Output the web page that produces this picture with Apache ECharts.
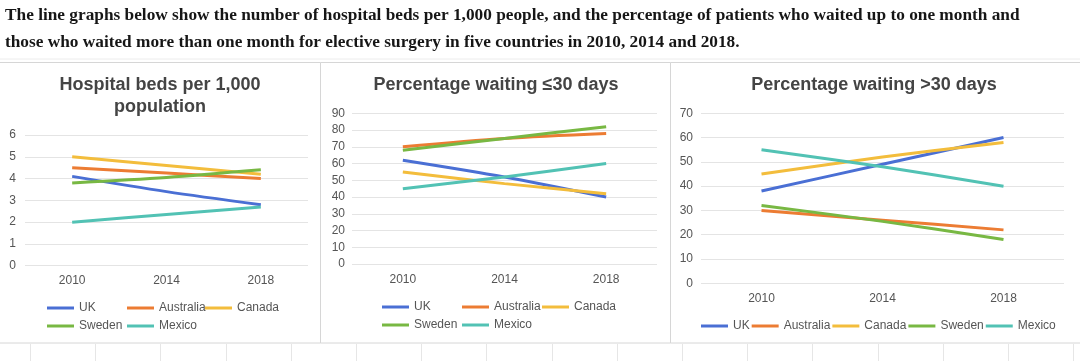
<!DOCTYPE html>
<html>
<head>
<meta charset="utf-8">
<script src="https://cdn.jsdelivr.net/npm/echarts@6/dist/echarts.min.js"></script>
<style>
html,body{margin:0;padding:0;background:#fff;}
#c{width:1080px;height:361px;}
</style>
</head>
<body>
<div id="c"></div>
<script>
var categories = ['2010', '2014', '2018'];
var countries = ['UK', 'Australia', 'Canada', 'Sweden', 'Mexico'];
var colors = ['#4a6fd4', '#ec7c33', '#f3bd3c', '#78b843', '#52c2b4'];

// Hospital beds per 1,000 population
var bedsUK = [4.1, 3.4, 2.8];
var bedsAustralia = [4.5, 4.25, 4.0];
var bedsCanada = [5.0, 4.6, 4.2];
var bedsSweden = [3.8, 4.05, 4.4];
var bedsMexico = [2.0, 2.35, 2.7];

// Percentage waiting <=30 days
var le30UK = [62, 52, 40];
var le30Australia = [70, 75, 78];
var le30Canada = [55, 48, 42];
var le30Sweden = [68, 75, 82];
var le30Mexico = [45, 52, 60];

// Percentage waiting >30 days
var gt30UK = [38, 49, 60];
var gt30Australia = [30, 26, 22];
var gt30Canada = [45, 52, 58];
var gt30Sweden = [32, 25.5, 18];
var gt30Mexico = [55, 48, 40];

var titles = ['Hospital beds per 1,000\npopulation', 'Percentage waiting \u226430 days', 'Percentage waiting >30 days'];
var heading1 = 'The line graphs below show the number of hospital beds per 1,000 people, and the percentage of patients who waited up to one month and';
var heading2 = 'those who waited more than one month for elective surgery in five countries in 2010, 2014 and 2018.';

var panelData = [
  [bedsUK, bedsAustralia, bedsCanada, bedsSweden, bedsMexico],
  [le30UK, le30Australia, le30Canada, le30Sweden, le30Mexico],
  [gt30UK, gt30Australia, gt30Canada, gt30Sweden, gt30Mexico]
];

var FONT = 'Liberation Sans, Arial, sans-serif';
var grids = [
  {left: 25, top: 135, width: 283, height: 130.7},
  {left: 352, top: 113.3, width: 305, height: 150.7},
  {left: 701, top: 113.3, width: 363, height: 170}
];
var yMax = [6, 90, 70];
var yInt = [1, 10, 10];
var yMargin = [9, 7, 8];
var xMargin = [9, 10, 9];

var xAxes = [], yAxes = [], series = [];
for (var p = 0; p < 3; p++) {
  xAxes.push({
    type: 'category', gridIndex: p, data: categories, boundaryGap: true,
    axisLine: {show: false}, axisTick: {show: false}, splitLine: {show: false},
    axisLabel: {color: '#555', fontSize: 12, fontFamily: FONT, margin: xMargin[p]}
  });
  yAxes.push({
    type: 'value', gridIndex: p, min: 0, max: yMax[p], interval: yInt[p],
    axisLine: {show: false}, axisTick: {show: false},
    splitLine: {lineStyle: {color: '#e4e4e4', width: 1}},
    axisLabel: {color: '#555', fontSize: 12, fontFamily: FONT, margin: yMargin[p]}
  });
  for (var s = 0; s < 5; s++) {
    series.push({
      type: 'line', name: countries[s], xAxisIndex: p, yAxisIndex: p,
      data: panelData[p][s], smooth: 0.3, showSymbol: false, symbol: 'none',
      lineStyle: {width: 3, color: colors[s]}, itemStyle: {color: colors[s]},
      emphasis: {disabled: true}
    });
  }
}

var legendBase = {
  icon: 'rect', itemWidth: 27, itemHeight: 3,
  textStyle: {color: '#555', fontSize: 12, fontFamily: FONT, lineHeight: 14},
  padding: 0, selectedMode: false
};
function lg(opts) { return Object.assign({}, legendBase, opts); }
var legends = [
  lg({data: ['UK', 'Sweden'], orient: 'vertical', left: 47, top: 301, itemGap: 4}),
  lg({data: ['Australia', 'Mexico'], orient: 'vertical', left: 127, top: 301, itemGap: 4}),
  lg({data: ['Canada'], orient: 'vertical', left: 205, top: 301, itemGap: 4}),
  lg({data: ['UK', 'Sweden'], orient: 'vertical', left: 382, top: 300, itemGap: 4}),
  lg({data: ['Australia', 'Mexico'], orient: 'vertical', left: 462, top: 300, itemGap: 4}),
  lg({data: ['Canada'], orient: 'vertical', left: 542, top: 300, itemGap: 4}),
  lg({data: countries, orient: 'horizontal', left: 701, top: 319, itemGap: 2})
];

var titleOpts = [
  {text: titles[0], left: 160, top: 74, textAlign: 'center'},
  {text: titles[1], left: 496, top: 74, textAlign: 'center'},
  {text: titles[2], left: 874, top: 74, textAlign: 'center'}
].map(function (t) {
  t.textStyle = {color: '#444', fontSize: 18, fontWeight: 'bold', fontFamily: FONT, lineHeight: 22};
  t.padding = 0;
  return t;
});

var graphics = [];
// faint spreadsheet cell lines behind
graphics.push({type: 'line', shape: {x1: 0, y1: 59, x2: 1080, y2: 59}, style: {stroke: '#ececec', lineWidth: 1}, z: -10});
for (var k = 0; k < 17; k++) {
  var gx = Math.round(30 + 65.2 * k) + 0.5;
  graphics.push({type: 'line', shape: {x1: gx, y1: 344, x2: gx, y2: 361}, style: {stroke: '#e6e6e6', lineWidth: 1}, z: -10});
}
// panel frames
graphics.push({type: 'rect', shape: {x: -1, y: 62.5, width: 321.5, height: 280.5}, style: {fill: '#fff', stroke: '#d6d6d6', lineWidth: 1}, z: -5});
graphics.push({type: 'rect', shape: {x: 320.5, y: 62.5, width: 350, height: 280.5}, style: {fill: '#fff', stroke: '#d6d6d6', lineWidth: 1}, z: -5});
graphics.push({type: 'rect', shape: {x: 670.5, y: 62.5, width: 412, height: 280.5}, style: {fill: '#fff', stroke: '#d6d6d6', lineWidth: 1}, z: -5});
// heading text
var HFONT = 'bold 17.3px "Liberation Serif", "Times New Roman", serif';
graphics.push({type: 'text', left: 5, top: 7, style: {text: heading1, fill: '#161616', font: HFONT}, z: 10});
graphics.push({type: 'text', left: 5, top: 34, style: {text: heading2, fill: '#161616', font: HFONT}, z: 10});

var chart = echarts.init(document.getElementById('c'), null, {renderer: 'canvas'});
chart.setOption({
  backgroundColor: '#fff',
  animation: false,
  title: titleOpts,
  legend: legends,
  grid: grids,
  xAxis: xAxes,
  yAxis: yAxes,
  series: series,
  graphic: graphics
});
</script>
</body>
</html>
